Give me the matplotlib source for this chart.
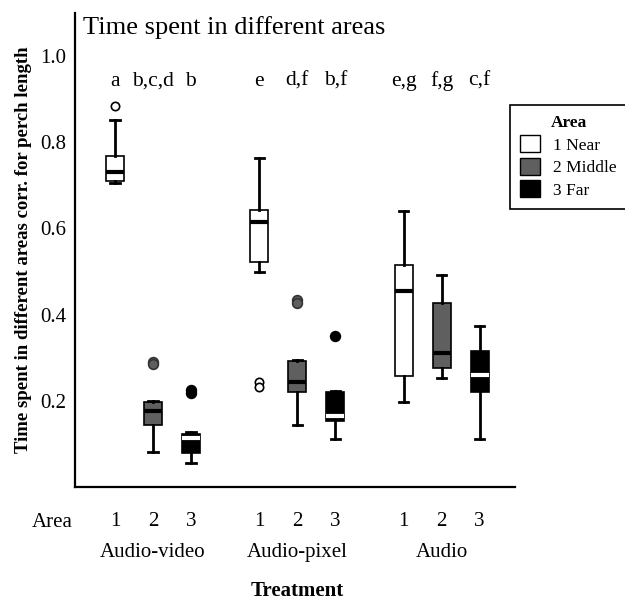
import numpy as np
import matplotlib.pyplot as plt
from matplotlib.patches import Patch

plt.rcParams['font.family'] = ['Liberation Serif', 'DejaVu Serif']

# data
treatments = ["Audio-video", "Audio-pixel", "Audio"]
areas = ["1", "2", "3"]
area_names = ["1 Near", "2 Middle", "3 Far"]
letters = ["a", "b,c,d", "b", "e", "d,f", "b,f", "e,g", "f,g", "c,f"]

whislo = [0.706, 0.081, 0.056, 0.498, 0.144, 0.111, 0.197, 0.252, 0.111]
q1 = [0.711, 0.144, 0.079, 0.523, 0.220, 0.152, 0.257, 0.275, 0.220]
med = [0.731, 0.176, 0.113, 0.616, 0.243, 0.165, 0.454, 0.310, 0.259]
q3 = [0.769, 0.197, 0.122, 0.644, 0.292, 0.220, 0.516, 0.428, 0.315]
whishi = [0.852, 0.200, 0.127, 0.764, 0.294, 0.223, 0.641, 0.493, 0.373]
fliers = [[0.884], [0.289, 0.285], [0.226, 0.219], [0.243, 0.231],
          [0.433, 0.428], [0.350], [], [], []]

fill_colors = ["white", "#5f5f5f", "black"]
median_colors = ["black", "black", "white"]

stats = []
for i in range(9):
    stats.append(dict(whislo=whislo[i], q1=q1[i], med=med[i], q3=q3[i],
                      whishi=whishi[i], fliers=fliers[i]))

group_centers = np.array([0.0, 3.8, 7.6])
positions = np.concatenate([c + np.array([-1, 0, 1]) for c in group_centers])

fig = plt.figure(figsize=(6.25, 6.01), dpi=100)
ax = fig.add_axes([0.12, 0.19, 0.704, 0.788])

bp = ax.bxp(stats, positions=positions, widths=0.47, patch_artist=True,
            showfliers=True, capwidths=0.25,
            whiskerprops=dict(linewidth=2, color="black"),
            capprops=dict(linewidth=2, color="black"),
            boxprops=dict(linewidth=1.2, edgecolor="black"),
            medianprops=dict(linewidth=3))

for i, box in enumerate(bp["boxes"]):
    a = i % 3
    box.set_facecolor(fill_colors[a])
    bp["medians"][i].set_color(median_colors[a])
    fl = bp["fliers"][i]
    fl.set_marker("o")
    fl.set_markersize(7 if a else 6)
    fl.set_markerfacecolor(fill_colors[a])
    fl.set_markeredgecolor("black" if a != 1 else "#333333")
    fl.set_markeredgewidth(1.2)

ax.set_xlim(-2.05, 9.53)
ax.set_ylim(0, 1.1)
ax.set_yticks([0.2, 0.4, 0.6, 0.8, 1.0], labels=["0.2", "0.4", "0.6", "0.8", "1.0"])
ax.set_xticks(positions, labels=areas * 3)
ax.tick_params(axis="y", length=0, pad=6, labelsize=15)
ax.tick_params(axis="x", length=0, pad=18, labelsize=15)
for s in ["top", "right"]:
    ax.spines[s].set_visible(False)
ax.spines["left"].set_linewidth(1.6)
ax.spines["bottom"].set_linewidth(1.6)

ax.set_ylabel("Time spent in different areas corr. for perch length",
              fontsize=13.5, fontweight="bold", labelpad=6)

ax.text(0.018, 0.97, "Time spent in different areas", transform=ax.transAxes,
        fontsize=19, va="center", ha="left")

for x, lab in zip(positions, letters):
    ax.text(x, 0.942, lab, fontsize=15.5, ha="center", va="center")

trans = ax.get_xaxis_transform()
ax.text(-0.052, -0.075, "Area", transform=ax.transAxes, fontsize=15,
        ha="center", va="center")
for c, name in zip(group_centers, treatments):
    ax.text(c, -0.138, name, transform=trans, fontsize=15, ha="center", va="center")
ax.text(group_centers[1], -0.219, "Treatment", transform=trans, fontsize=15,
        fontweight="bold", ha="center", va="center")

handles = [Patch(facecolor=fc, edgecolor="black", linewidth=1) for fc in fill_colors]
leg = fig.legend(handles, area_names, loc="upper left",
                 bbox_to_anchor=(0.816, 0.826), borderaxespad=0, fontsize=12.5,
                 title="Area", title_fontproperties=dict(weight="bold", size=12.5),
                 fancybox=False, edgecolor="black", framealpha=1,
                 handlelength=1.1, handleheight=1.1, labelspacing=0.25,
                 handletextpad=0.8, borderpad=0.6)
leg.get_frame().set_linewidth(1.2)

fig.savefig("out.png", dpi=100)
